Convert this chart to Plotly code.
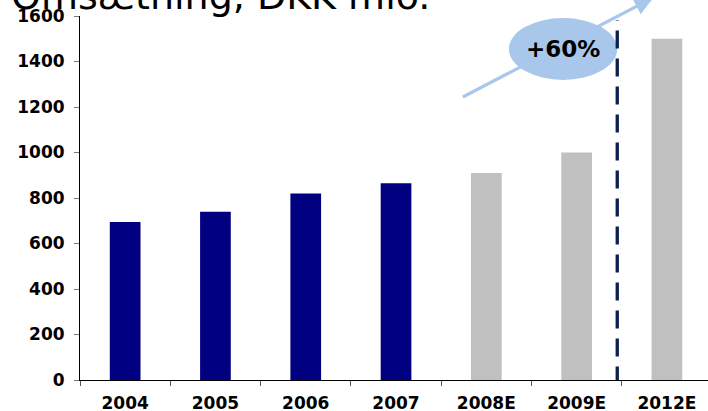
"""
Omsætning, DKK mio. — revenue bars 2004-2012E with a +60% growth callout.
"""
import numpy as np
import plotly.graph_objects as go

# ── Data ──────────────────────────────────────────────────────────────────
years    = ["2004", "2005", "2006", "2007", "2008E", "2009E", "2012E"]
revenue  = [695, 740, 820, 865, 910, 1000, 1500]
estimate = [False, False, False, False, True, True, True]
y_ticks  = [0, 200, 400, 600, 800, 1000, 1200, 1400, 1600]

# ── Style ─────────────────────────────────────────────────────────────────
NAVY      = "#000080"
GREY_BAR  = "#c0c0c0"
DASH_COL  = "#0c1f4f"
CALLOUT   = "#a9c7eb"
FONT      = "DejaVu Sans"

W, H = 708, 411
M_L, M_R, M_T, M_B = 80, 0, 16, 31
PLOT_W, PLOT_H = W - M_L - M_R, H - M_T - M_B

X_RANGE = (-0.5, 6.455)   # right edge of the last category is cut off
Y_RANGE = (0, 1600)


def to_paper(x, y):
    """Data coordinates -> paper fractions (lets shapes escape the plot clip)."""
    xp = (x - X_RANGE[0]) / (X_RANGE[1] - X_RANGE[0])
    yp = (y - Y_RANGE[0]) / (Y_RANGE[1] - Y_RANGE[0])
    return xp, yp


fig = go.Figure()

fig.add_trace(go.Bar(
    x=years,
    y=revenue,
    width=0.34,
    marker=dict(color=[GREY_BAR if e else NAVY for e in estimate], line_width=0),
    showlegend=False,
    hovertemplate="%{x}: %{y}<extra></extra>",
))

# ── Growth arrow (drawn in paper space so it can run off the top) ─────────
tail = to_paper(3.74, 1244)
tip  = to_paper(5.85, 1681)
fig.add_shape(type="line", xref="paper", yref="paper",
              x0=tail[0], y0=tail[1], x1=tip[0], y1=tip[1],
              line=dict(color=CALLOUT, width=3.2), layer="above")

# arrowhead triangle, built in pixel units then back to paper
t_px = np.array([tip[0] * PLOT_W, tip[1] * PLOT_H])
s_px = np.array([tail[0] * PLOT_W, tail[1] * PLOT_H])
u = (t_px - s_px) / np.linalg.norm(t_px - s_px)
n = np.array([-u[1], u[0]])
base = t_px - 19 * u
c1, c2 = base + 9 * n, base - 9 * n
pts = [t_px, c1, c2]
path = "M " + " L ".join(f"{p[0] / PLOT_W:.5f},{p[1] / PLOT_H:.5f}" for p in pts) + " Z"
fig.add_shape(type="path", xref="paper", yref="paper", path=path,
              fillcolor=CALLOUT, line_width=0, layer="above")

# callout ellipse
fig.add_shape(type="circle", xref="x", yref="y",
              x0=4.25, x1=5.45, y0=1319, y1=1591,
              fillcolor=CALLOUT, line_width=0, layer="above")
fig.add_annotation(x=4.85, y=1455, xref="x", yref="y", text="<b>+60%</b>",
                   showarrow=False, font=dict(family=FONT, size=23, color="black"))

# dashed divider between 2009E and 2012E
fig.add_shape(type="line", xref="x", yref="y",
              x0=5.45, x1=5.45, y0=-20, y1=1582,
              line=dict(color=DASH_COL, width=3.3, dash="18px,10px"), layer="above")

# title, partly cut off at the top edge
fig.add_annotation(
    xref="paper", yref="paper",
    x=(-M_L + 9) / PLOT_W, y=1.0563,
    xanchor="left", yanchor="middle",
    text="Omsætning, DKK mio.",
    showarrow=False,
    font=dict(family=FONT, size=38, color="black"),
)

tick_font = dict(family=FONT, size=17, color="black", weight="bold")

fig.update_layout(
    width=W, height=H,
    margin=dict(l=M_L, r=M_R, t=M_T, b=M_B, pad=0, autoexpand=False),
    paper_bgcolor="white",
    plot_bgcolor="white",
    bargap=0.66,
    xaxis=dict(
        type="category",
        range=list(X_RANGE),
        automargin=False,
        showgrid=False,
        showline=True, linecolor="black", linewidth=1,
        ticks="outside", tickson="boundaries", ticklen=5, tickcolor="#555555",
        tickfont=tick_font,
        ticklabelstandoff=8,
        zeroline=False,
    ),
    yaxis=dict(
        range=list(Y_RANGE),
        tickvals=y_ticks,
        automargin=False,
        showgrid=False,
        showline=True, linecolor="black", linewidth=1,
        ticks="outside", ticklen=5, tickcolor="#777777",
        tickfont=tick_font,
        ticklabelstandoff=6,
        zeroline=False,
    ),
)

# the page's default 8px body margin would shift the whole chart
fig.write_html(
    "out.html",
    config={"displayModeBar": False},
    post_script="document.body.style.margin='0';",
)
